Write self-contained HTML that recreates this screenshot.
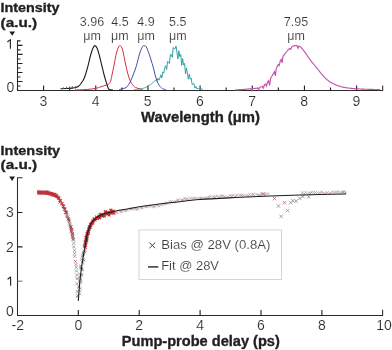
<!DOCTYPE html>
<html><head><meta charset="utf-8"><style>html,body{margin:0;padding:0;background:#fff;width:392px;height:350px;overflow:hidden}svg{display:block;will-change:transform}text{font-family:"Liberation Sans",sans-serif}</style></head><body><svg width="392" height="350" viewBox="0 0 392 350" font-family="Liberation Sans, sans-serif"><path d="M17.5,40.3 V90.5 H382.7 V85.6" fill="none" stroke="#2a2a2a" stroke-width="1.05"/><path d="M17.5,45.40h5 M17.5,54.42h5 M17.5,63.44h5 M17.5,72.46h5 M17.5,81.48h5 M17.5,40.90h3 M17.5,49.92h3 M17.5,58.94h3 M17.5,67.96h3 M17.5,76.98h3 M17.5,86.00h3" stroke="#231f20" stroke-width="1.1"/><path d="M43.59,90.5V85.6 M95.75,90.5V85.6 M147.93,90.5V85.6 M200.09,90.5V85.6 M252.27,90.5V85.6 M304.44,90.5V85.6 M356.61,90.5V85.6 M17.50,90.5V87.5 M69.67,90.5V87.5 M121.84,90.5V87.5 M174.01,90.5V87.5 M226.18,90.5V87.5 M278.35,90.5V87.5 M330.52,90.5V87.5" stroke="#231f20" stroke-width="1.1"/><path d="M60.50,88.70 C61.42,88.67 64.08,88.60 66.00,88.50 C67.92,88.40 70.33,88.27 72.00,88.10 C73.67,87.93 74.92,87.80 76.00,87.50 C77.08,87.20 77.67,86.97 78.50,86.30 C79.33,85.63 80.13,84.67 81.00,83.50 C81.87,82.33 82.87,81.05 83.70,79.30 C84.53,77.55 85.25,75.35 86.00,73.00 C86.75,70.65 87.45,68.12 88.20,65.20 C88.95,62.28 89.73,58.28 90.50,55.50 C91.27,52.72 92.05,50.15 92.80,48.50 C93.55,46.85 94.27,45.60 95.00,45.60 C95.73,45.60 96.45,46.77 97.20,48.50 C97.95,50.23 98.73,53.17 99.50,56.00 C100.27,58.83 101.05,62.42 101.80,65.50 C102.55,68.58 103.30,71.83 104.00,74.50 C104.70,77.17 105.40,79.50 106.00,81.50 C106.60,83.50 107.15,85.22 107.60,86.50 C108.05,87.78 108.22,88.63 108.70,89.20 C109.18,89.77 109.78,89.75 110.50,89.90 C111.22,90.05 112.58,90.07 113.00,90.10" fill="none" stroke="#1d1d1b" stroke-width="1.1"/><path d="M66.5,86.6V89 M69.5,86.3V89 M72.3,86.0V88.8 M75.5,85.8V88.6 M63.5,87.2V89" stroke="#555" stroke-width="0.8"/><path d="M75.00,90.00 C76.67,89.93 81.67,89.85 85.00,89.60 C88.33,89.35 92.33,88.97 95.00,88.50 C97.67,88.03 99.33,87.30 101.00,86.80 C102.67,86.30 103.78,85.92 105.00,85.50 C106.22,85.08 107.50,84.75 108.30,84.30 C109.10,83.85 109.37,83.52 109.80,82.80 C110.23,82.08 110.50,81.47 110.90,80.00 C111.30,78.53 111.63,76.67 112.20,74.00 C112.77,71.33 113.58,67.50 114.30,64.00 C115.02,60.50 115.62,56.07 116.50,53.00 C117.38,49.93 118.58,46.10 119.60,45.60 C120.62,45.10 121.62,46.93 122.60,50.00 C123.58,53.07 124.52,59.67 125.50,64.00 C126.48,68.33 127.48,72.75 128.50,76.00 C129.52,79.25 130.42,81.58 131.60,83.50 C132.78,85.42 134.20,86.62 135.60,87.50 C137.00,88.38 138.77,88.48 140.00,88.80 C141.23,89.12 142.50,89.30 143.00,89.40" fill="none" stroke="#d42a3c" stroke-width="1.0"/><path d="M119.00,89.60 C119.67,89.43 121.67,89.07 123.00,88.60 C124.33,88.13 125.73,88.07 127.00,86.80 C128.27,85.53 129.52,83.13 130.60,81.00 C131.68,78.87 132.52,76.58 133.50,74.00 C134.48,71.42 135.50,68.83 136.50,65.50 C137.50,62.17 138.48,57.17 139.50,54.00 C140.52,50.83 141.83,47.88 142.60,46.50 C143.37,45.12 143.50,45.65 144.10,45.70 C144.70,45.75 145.33,45.33 146.20,46.80 C147.07,48.27 148.32,51.73 149.30,54.50 C150.28,57.27 151.28,60.65 152.10,63.40 C152.92,66.15 153.53,68.52 154.20,71.00 C154.87,73.48 155.30,75.95 156.10,78.30 C156.90,80.65 157.93,83.38 159.00,85.10 C160.07,86.82 161.33,87.83 162.50,88.60 C163.67,89.37 165.42,89.52 166.00,89.70" fill="none" stroke="#3f4c9f" stroke-width="1.0"/><path d="M134.00,89.70 L134.14,89.68 L134.29,89.67 L134.46,89.65 L134.64,89.63 L134.84,89.62 L135.05,89.60 L135.27,89.58 L135.50,89.56 L135.75,89.54 L136.00,89.52 L136.26,89.50 L136.53,89.48 L136.81,89.45 L137.09,89.43 L137.38,89.40 L137.67,89.37 L137.97,89.34 L138.26,89.31 L138.56,89.28 L138.86,89.24 L139.15,89.21 L139.45,89.17 L139.74,89.12 L140.03,89.08 L140.32,89.03 L140.60,88.99 L140.88,88.93 L141.15,88.88 L141.41,88.82 L141.66,88.76 L141.90,88.70 L142.15,88.63 L142.40,88.56 L142.64,88.49 L142.88,88.42 L143.12,88.34 L143.36,88.27 L143.59,88.19 L143.82,88.11 L144.05,88.03 L144.28,87.94 L144.51,87.86 L144.73,87.77 L144.96,87.67 L145.18,87.58 L145.41,87.48 L145.63,87.38 L145.86,87.28 L146.08,87.17 L146.31,87.06 L146.54,86.94 L146.77,86.82 L147.00,86.70 L147.23,86.57 L147.47,86.44 L147.71,86.30 L147.95,86.16 L148.20,86.01 L148.45,85.86 L148.70,85.70 L148.89,85.58 L149.08,85.46 L149.27,85.33 L149.46,85.21 L149.66,85.07 L149.86,84.94 L150.06,84.80 L150.26,84.66 L150.46,84.52 L150.67,84.37 L150.88,84.22 L151.08,84.07 L151.29,83.91 L151.50,83.76 L151.71,83.60 L151.92,83.44 L152.14,83.28 L152.35,83.12 L152.56,82.95 L152.77,82.79 L152.98,82.62 L153.19,82.45 L153.40,82.28 L153.61,82.11 L153.82,81.94 L154.02,81.77 L154.23,81.60 L154.43,81.43 L154.63,81.26 L154.83,81.09 L155.80,80.23 L156.89,81.21 L157.84,78.27 L158.91,80.13 L159.91,77.97 L160.85,74.80 L161.86,77.91 L162.81,71.93 L163.77,73.12 L164.69,68.04 L165.69,65.68 L166.63,69.58 L167.58,61.42 L168.49,62.29 L169.41,63.53 L170.33,54.40 L171.26,54.61 L172.25,57.31 L173.19,47.51 L174.10,48.70 L175.03,48.75 L176.02,46.04 L176.93,52.19 L177.90,58.95 L178.87,50.77 L179.83,56.65 L180.74,54.48 L181.69,65.42 L182.64,58.58 L183.59,64.97 L184.56,63.44 L185.54,73.79 L186.45,67.90 L187.39,73.08 L188.32,79.16 L189.31,74.30 L190.25,79.24 L191.15,78.03 L192.15,84.52 L193.06,83.94 L193.97,83.68 L194.96,88.13 L195.95,86.36 L197.03,88.96 L198.00,88.18 L198.20,88.30 L198.43,88.42 L198.68,88.52 L198.95,88.61 L199.22,88.70 L199.51,88.77 L199.80,88.83 L200.09,88.88 L200.39,88.93 L200.68,88.97 L200.98,89.00 L201.26,89.03 L201.54,89.06 L201.80,89.08 L202.05,89.10 L202.29,89.12 L202.50,89.14 L202.69,89.16 L202.86,89.18 L203.00,89.20" fill="none" stroke="#2b9ba0" stroke-width="0.95" stroke-linejoin="miter" stroke-miterlimit="3"/><path d="M235.00,90.00 L235.13,89.99 L235.28,89.98 L235.44,89.97 L235.61,89.96 L235.79,89.95 L235.99,89.93 L236.19,89.92 L236.41,89.90 L236.63,89.89 L236.87,89.87 L237.11,89.86 L237.36,89.84 L237.62,89.82 L237.88,89.81 L238.15,89.79 L238.42,89.77 L238.70,89.75 L238.99,89.73 L239.27,89.71 L239.56,89.69 L239.85,89.67 L240.15,89.65 L240.44,89.63 L240.74,89.61 L241.03,89.59 L241.32,89.57 L241.62,89.55 L241.91,89.53 L242.19,89.51 L242.48,89.49 L242.76,89.47 L243.03,89.45 L243.30,89.43 L243.57,89.41 L243.83,89.39 L244.08,89.37 L244.32,89.35 L244.56,89.34 L244.78,89.32 L245.88,89.22 L246.98,89.12 L248.01,89.02 L248.99,88.92 L249.93,88.82 L250.85,88.72 L251.77,90.62 L252.80,88.53 L253.82,88.46 L254.82,88.39 L255.79,88.31 L256.77,88.18 L257.75,87.97 L258.69,90.20 L259.62,87.40 L260.55,87.06 L261.48,86.67 L262.40,86.21 L263.32,88.67 L264.36,84.93 L265.42,84.07 L266.48,86.11 L267.53,82.04 L268.58,80.85 L269.63,85.53 L270.60,78.17 L271.55,76.69 L272.50,75.10 L273.44,73.48 L274.46,71.66 L275.39,75.99 L276.33,68.28 L277.30,66.38 L278.29,64.40 L279.30,65.50 L280.23,60.89 L281.15,59.36 L282.07,62.90 L283.00,56.50 L283.92,55.20 L284.85,53.94 L285.78,52.76 L286.80,51.50 L287.75,50.39 L288.65,49.41 L289.67,48.39 L290.69,49.53 L291.73,46.84 L292.83,46.30 L293.96,45.85 L294.94,45.64 L295.96,45.59 L296.95,45.59 L298.01,48.31 L299.08,46.03 L300.12,46.65 L301.11,47.52 L302.13,48.64 L303.07,49.80 L304.07,51.09 L305.02,52.40 L305.16,52.60 L305.30,52.80 L305.44,53.01 L305.59,53.22 L305.74,53.44 L305.88,53.65 L306.03,53.87 L306.18,54.09 L306.33,54.31 L306.48,54.53 L306.63,54.76 L306.78,54.98 L306.94,55.21 L307.09,55.43 L307.24,55.66 L307.39,55.88 L307.55,56.11 L307.70,56.33 L307.85,56.56 L308.01,56.78 L308.16,57.00 L308.31,57.22 L308.46,57.44 L308.61,57.66 L308.77,57.87 L308.92,58.09 L309.07,58.30 L309.21,58.50 L309.36,58.71 L309.51,58.91 L309.66,59.11 L309.80,59.30 L309.96,59.51 L310.12,59.72 L310.28,59.93 L310.44,60.13 L310.60,60.34 L310.75,60.54 L310.91,60.74 L311.07,60.94 L311.23,61.14 L311.39,61.34 L311.55,61.54 L311.71,61.73 L311.86,61.93 L312.02,62.12 L312.18,62.32 L312.34,62.51 L312.50,62.70 L312.65,62.89 L312.81,63.08 L312.97,63.27 L313.13,63.46 L313.29,63.65 L313.44,63.84 L313.60,64.03 L313.76,64.22 L313.92,64.41 L314.07,64.60 L314.23,64.79 L314.39,64.98 L314.55,65.16 L314.70,65.35 L314.86,65.55 L315.02,65.74 L315.17,65.93 L315.33,66.12 L315.49,66.31 L315.64,66.51 L315.80,66.70 L315.96,66.90 L316.12,67.10 L316.28,67.30 L316.44,67.51 L316.60,67.71 L316.76,67.92 L316.92,68.12 L317.08,68.33 L317.24,68.53 L317.40,68.74 L317.56,68.94 L317.72,69.15 L317.88,69.36 L318.04,69.56 L318.20,69.77 L318.36,69.97 L318.52,70.18 L318.68,70.39 L318.84,70.59 L318.99,70.79 L319.15,71.00 L319.31,71.20 L319.47,71.40 L319.63,71.60 L319.79,71.80 L319.95,72.00 L320.11,72.20 L320.27,72.40 L320.43,72.59 L320.59,72.79 L320.74,72.98 L320.90,73.17 L321.06,73.36 L321.22,73.55 L321.38,73.73 L321.54,73.92 L321.70,74.10 L321.88,74.30 L322.05,74.50 L322.23,74.70 L322.41,74.90 L322.58,75.10 L322.75,75.30 L322.92,75.49 L323.10,75.69 L323.27,75.88 L323.44,76.07 L323.61,76.26 L323.78,76.45 L323.95,76.64 L324.13,76.83 L324.30,77.01 L324.47,77.20 L324.64,77.38 L324.82,77.56 L324.99,77.74 L325.17,77.92 L325.34,78.09 L325.52,78.27 L325.70,78.44 L325.88,78.62 L326.07,78.79 L326.25,78.96 L326.44,79.13 L326.62,79.29 L326.81,79.46 L327.01,79.62 L327.20,79.78 L327.40,79.94 L327.60,80.10 L327.80,80.25 L327.99,80.40 L328.19,80.55 L328.39,80.70 L328.59,80.85 L328.79,80.99 L328.99,81.13 L329.19,81.28 L329.39,81.42 L329.60,81.55 L329.80,81.69 L330.01,81.83 L330.22,81.96 L330.43,82.10 L330.64,82.23 L330.85,82.36 L331.06,82.49 L331.28,82.62 L331.50,82.74 L331.71,82.87 L331.94,82.99 L332.16,83.11 L332.38,83.24 L332.61,83.36 L332.84,83.48 L333.07,83.59 L333.30,83.71 L333.54,83.83 L333.77,83.94 L334.01,84.06 L334.26,84.17 L334.50,84.28 L334.75,84.39 L335.00,84.50 L335.21,84.59 L335.43,84.68 L335.64,84.77 L335.85,84.86 L336.06,84.95 L336.28,85.04 L336.49,85.13 L336.70,85.21 L336.92,85.30 L337.13,85.38 L337.35,85.47 L337.56,85.55 L337.78,85.63 L338.00,85.71 L338.22,85.79 L338.45,85.87 L338.67,85.95 L338.90,86.03 L339.13,86.11 L339.36,86.18 L339.59,86.26 L339.83,86.33 L340.06,86.40 L340.31,86.48 L340.55,86.55 L340.80,86.62 L341.05,86.69 L341.31,86.75 L341.56,86.82 L341.83,86.89 L342.09,86.95 L342.36,87.02 L342.64,87.08 L342.92,87.14 L343.20,87.21 L343.49,87.27 L343.79,87.33 L344.09,87.39 L344.39,87.44 L344.70,87.50 L344.91,87.54 L345.11,87.57 L345.32,87.61 L345.53,87.64 L345.75,87.68 L345.96,87.71 L346.18,87.74 L346.39,87.78 L346.61,87.81 L346.83,87.84 L347.06,87.87 L347.28,87.90 L347.51,87.93 L347.73,87.96 L347.96,87.99 L348.19,88.02 L348.43,88.05 L348.66,88.08 L348.90,88.11 L349.13,88.14 L349.37,88.16 L349.61,88.19 L349.85,88.22 L350.09,88.24 L350.34,88.27 L350.58,88.29 L350.83,88.32 L351.08,88.34 L351.33,88.36 L351.58,88.39 L351.83,88.41 L352.09,88.43 L352.34,88.46 L352.60,88.48 L352.86,88.50 L353.12,88.52 L353.38,88.55 L353.64,88.57 L353.90,88.59 L354.17,88.61 L354.43,88.63 L354.70,88.65 L354.97,88.67 L355.24,88.69 L355.51,88.71 L355.78,88.73 L356.05,88.75 L356.33,88.77 L356.60,88.79 L356.88,88.80 L357.16,88.82 L357.44,88.84 L357.72,88.86 L358.00,88.88 L358.28,88.89 L358.57,88.91 L358.85,88.93 L359.14,88.95 L359.42,88.97 L359.71,88.98 L360.00,89.00 L360.22,89.01 L360.45,89.03 L360.68,89.04 L360.92,89.05 L361.16,89.06 L361.40,89.08 L361.65,89.09 L361.90,89.10 L362.15,89.11 L362.41,89.12 L362.67,89.13 L362.94,89.14 L363.20,89.16 L363.47,89.17 L363.74,89.18 L364.02,89.19 L364.30,89.20 L364.57,89.21 L364.86,89.22 L365.14,89.23 L365.42,89.24 L365.71,89.25 L366.00,89.26 L366.28,89.27 L366.57,89.27 L366.86,89.28 L367.16,89.29 L367.45,89.30 L367.74,89.31 L368.03,89.32 L368.33,89.33 L368.62,89.33 L368.92,89.34 L369.21,89.35 L369.50,89.36 L369.79,89.36 L370.09,89.37 L370.38,89.38 L370.67,89.39 L370.96,89.39 L371.24,89.40 L371.53,89.41 L371.82,89.41 L372.10,89.42 L372.38,89.43 L372.66,89.43 L372.94,89.44 L373.21,89.45 L373.49,89.45 L373.76,89.46 L374.03,89.46 L374.29,89.47 L374.55,89.48 L374.81,89.48 L375.07,89.49 L375.32,89.49 L375.57,89.50 L375.82,89.50 L376.06,89.51 L376.30,89.51 L376.53,89.52 L376.76,89.52 L376.98,89.53 L377.20,89.53 L377.42,89.54 L377.63,89.54 L377.84,89.55 L378.04,89.55 L378.23,89.56 L378.42,89.56 L378.61,89.56 L378.79,89.57 L378.96,89.57 L379.13,89.58 L379.29,89.58 L379.45,89.58 L379.59,89.59 L379.74,89.59 L379.87,89.60 L380.00,89.60" fill="none" stroke="#c252ae" stroke-width="1.15" stroke-linejoin="miter" stroke-miterlimit="3"/><path d="M22.5,177.7 H17.5 V315.5 H382.6 V309.8" fill="none" stroke="#2a2a2a" stroke-width="1.05"/><path d="M17.5,281.17h5" stroke="#777" stroke-width="1.1"/><path d="M17.5,246.84h5 M17.5,212.51h5 M78.30,315.5V310 M139.20,315.5V310 M200.10,315.5V310 M261.00,315.5V310 M321.90,315.5V310" stroke="#231f20" stroke-width="1.1"/><path d="M37.23,194.64 L37.69,194.62 L38.19,194.60 L38.71,194.57 L39.25,194.55 L39.81,194.53 L40.38,194.52 L40.95,194.51 L41.52,194.50 L42.08,194.50 L42.62,194.51 L43.15,194.53 L43.65,194.55 L44.12,194.59 L44.60,194.64 L45.10,194.70 L45.61,194.76 L46.13,194.83 L46.65,194.90 L47.18,194.98 L47.70,195.07 L48.22,195.17 L48.73,195.26 L49.23,195.37 L49.72,195.47 L50.19,195.58 L50.65,195.68 L51.09,195.79 L51.50,195.91 L51.88,196.02 L52.23,196.14 L52.75,196.33 L53.19,196.50 L53.57,196.67 L53.91,196.84 L54.25,196.96 L54.59,197.06 L54.95,197.20 L55.32,197.38 L55.72,197.61 L56.16,197.89 L56.64,198.21 L56.99,198.45 L57.34,198.71 L57.70,198.99 L58.07,199.28 L58.43,199.59 L58.80,199.92 L59.18,200.26 L59.55,200.63 L60.29,200.10 L60.05,199.62 L59.81,199.15 L59.57,198.69 L59.33,198.25 L59.09,197.81 L58.85,197.39 L58.60,196.98 L58.36,196.59 L58.02,196.06 L57.69,195.58 L57.36,195.12 L57.01,194.68 L56.65,194.26 L56.25,193.85 L55.81,193.49 L55.30,193.21 L54.76,192.95 L54.19,192.71 L53.57,192.46 L53.12,192.30 L52.65,192.14 L52.16,191.99 L51.65,191.85 L51.13,191.71 L50.60,191.58 L50.06,191.45 L49.51,191.34 L48.95,191.23 L48.38,191.13 L47.82,191.04 L47.25,190.95 L46.68,190.87 L46.12,190.79 L45.57,190.72 L45.02,190.66 L44.48,190.61 L43.91,190.56 L43.32,190.53 L42.72,190.51 L42.11,190.50 L41.50,190.50 L40.89,190.51 L40.28,190.52 L39.69,190.54 L39.11,190.56 L38.54,190.58 L38.01,190.60 L37.50,190.63 L37.04,190.65Z" fill="#d42a32"/><path d="M52.57,193.02l3,3m-3,0l3,-3M55.18,194.36l3,3m-3,0l3,-3M57.27,196.58l3,3m-3,0l3,-3M58.77,199.27l3,3m-3,0l3,-3M60.55,202.16l3,3m-3,0l3,-3M61.97,204.79l3,3m-3,0l3,-3M63.10,207.70l3,3m-3,0l3,-3M64.35,210.72l3,3m-3,0l3,-3" stroke="#d42a32" stroke-width="1.2"/><path d="M65.10,211.65L67.90,214.45M65.10,214.45L67.90,211.65" stroke="#d42a32" stroke-width="0.95"/><path d="M65.57,213.89L68.37,216.69M65.57,216.69L68.37,213.89" stroke="#8a7a7a" stroke-width="0.95"/><path d="M66.45,215.42L69.25,218.22M66.45,218.22L69.25,215.42" stroke="#8a7a7a" stroke-width="0.95"/><path d="M66.91,217.42L69.71,220.22M66.91,220.22L69.71,217.42" stroke="#d42a32" stroke-width="0.95"/><path d="M67.53,219.30L70.33,222.10M67.53,222.10L70.33,219.30" stroke="#d42a32" stroke-width="0.95"/><path d="M68.18,221.73L70.98,224.53M68.18,224.53L70.98,221.73" stroke="#8a7a7a" stroke-width="0.95"/><path d="M68.58,223.48L71.38,226.28M68.58,226.28L71.38,223.48" stroke="#8a7a7a" stroke-width="0.95"/><path d="M69.52,225.51L72.32,228.31M69.52,228.31L72.32,225.51" stroke="#d42a32" stroke-width="0.95"/><path d="M69.93,227.95L72.73,230.75M69.93,230.75L72.73,227.95" stroke="#d42a32" stroke-width="0.95"/><path d="M69.82,229.61L72.62,232.41M69.82,232.41L72.62,229.61" stroke="#d42a32" stroke-width="0.95"/><path d="M70.87,232.03L73.67,234.83M70.87,234.83L73.67,232.03" stroke="#d42a32" stroke-width="0.95"/><path d="M71.03,233.25L73.83,236.05M71.03,236.05L73.83,233.25" stroke="#8a7a7a" stroke-width="0.95"/><path d="M71.25,235.84L74.05,238.64M71.25,238.64L74.05,235.84" stroke="#d42a32" stroke-width="0.95"/><path d="M72.04,237.69L74.84,240.49M72.04,240.49L74.84,237.69" stroke="#8a7a7a" stroke-width="0.95"/><path d="M36.83,189.72L39.43,192.32M36.83,192.32L39.43,189.72" stroke="#6a5a5a" stroke-width="0.5"/><path d="M38.71,192.51L41.31,195.11M38.71,195.11L41.31,192.51" stroke="#6a5a5a" stroke-width="0.5"/><path d="M42.10,192.67L44.70,195.27M42.10,195.27L44.70,192.67" stroke="#6a5a5a" stroke-width="0.5"/><path d="M45.46,190.01L48.06,192.61M45.46,192.61L48.06,190.01" stroke="#6a5a5a" stroke-width="0.5"/><path d="M46.40,190.12L49.00,192.72M46.40,192.72L49.00,190.12" stroke="#6a5a5a" stroke-width="0.5"/><path d="M49.42,193.81L52.02,196.41M49.42,196.41L52.02,193.81" stroke="#6a5a5a" stroke-width="0.5"/><path d="M51.21,194.66L53.81,197.26M51.21,197.26L53.81,194.66" stroke="#6a5a5a" stroke-width="0.5"/><path d="M54.54,192.87L57.14,195.47M54.54,195.47L57.14,192.87" stroke="#6a5a5a" stroke-width="0.5"/><path d="M56.74,195.12L59.34,197.72M56.74,197.72L59.34,195.12" stroke="#6a5a5a" stroke-width="0.5"/><path d="M57.50,195.76L60.10,198.36M57.50,198.36L60.10,195.76" stroke="#6a5a5a" stroke-width="0.5"/><path d="M58.39,201.37L60.99,203.97M58.39,203.97L60.99,201.37" stroke="#6a5a5a" stroke-width="0.5"/><path d="M61.48,204.32L64.08,206.92M61.48,206.92L64.08,204.32" stroke="#6a5a5a" stroke-width="0.5"/><path d="M62.27,206.78L64.87,209.38M62.27,209.38L64.87,206.78" stroke="#6a5a5a" stroke-width="0.5"/><path d="M63.82,207.92L66.42,210.52M63.82,210.52L66.42,207.92" stroke="#6a5a5a" stroke-width="0.5"/><path d="M63.23,207.67L65.83,210.27M63.23,210.27L65.83,207.67" stroke="#6a5a5a" stroke-width="0.5"/><path d="M64.89,210.34L67.49,212.94M64.89,212.94L67.49,210.34" stroke="#6a5a5a" stroke-width="0.5"/><path d="M65.36,215.40L67.96,218.00M65.36,218.00L67.96,215.40" stroke="#6a5a5a" stroke-width="0.5"/><path d="M66.85,218.08L69.45,220.68M66.85,220.68L69.45,218.08" stroke="#6a5a5a" stroke-width="0.5"/><path d="M67.81,217.81L70.41,220.41M67.81,220.41L70.41,217.81" stroke="#6a5a5a" stroke-width="0.5"/><path d="M68.10,219.81L70.70,222.41M68.10,222.41L70.70,219.81" stroke="#6a5a5a" stroke-width="0.5"/><path d="M68.67,225.59L71.27,228.19M68.67,228.19L71.27,225.59" stroke="#6a5a5a" stroke-width="0.5"/><path d="M69.81,227.69L72.41,230.29M69.81,230.29L72.41,227.69" stroke="#6a5a5a" stroke-width="0.5"/><path d="M71.11,227.98L73.71,230.58M71.11,230.58L73.71,227.98" stroke="#6a5a5a" stroke-width="0.5"/><path d="M70.35,231.02L72.95,233.62M70.35,233.62L72.95,231.02" stroke="#6a5a5a" stroke-width="0.5"/><path d="M71.26,232.68L73.86,235.28M71.26,235.28L73.86,232.68" stroke="#6a5a5a" stroke-width="0.5"/><path d="M71.84,237.71L74.44,240.31M71.84,240.31L74.44,237.71" stroke="#6a5a5a" stroke-width="0.5"/><path d="M69.10,225.20L72.10,228.20M69.10,228.20L72.10,225.20" stroke="#b04050" stroke-width="0.65"/><path d="M70.10,229.50L73.10,232.50M70.10,232.50L73.10,229.50" stroke="#7d7575" stroke-width="0.65"/><path d="M71.20,234.60L74.20,237.60M71.20,237.60L74.20,234.60" stroke="#b04050" stroke-width="0.65"/><path d="M71.80,238.50L74.80,241.50M71.80,241.50L74.80,238.50" stroke="#7d7575" stroke-width="0.65"/><path d="M72.20,241.90L75.20,244.90M72.20,244.90L75.20,241.90" stroke="#7d7575" stroke-width="0.65"/><path d="M72.20,245.40L75.20,248.40M72.20,248.40L75.20,245.40" stroke="#7d7575" stroke-width="0.65"/><path d="M73.10,248.80L76.10,251.80M73.10,251.80L76.10,248.80" stroke="#7d7575" stroke-width="0.65"/><path d="M73.10,251.80L76.10,254.80M73.10,254.80L76.10,251.80" stroke="#7d7575" stroke-width="0.65"/><path d="M73.10,254.80L76.10,257.80M73.10,257.80L76.10,254.80" stroke="#7d7575" stroke-width="0.65"/><path d="M73.90,259.90L76.90,262.90M73.90,262.90L76.90,259.90" stroke="#b04050" stroke-width="0.65"/><path d="M74.50,263.00L77.50,266.00M74.50,266.00L77.50,263.00" stroke="#7d7575" stroke-width="0.65"/><path d="M74.80,265.90L77.80,268.90M74.80,268.90L77.80,265.90" stroke="#7d7575" stroke-width="0.65"/><path d="M75.00,269.50L78.00,272.50M75.00,272.50L78.00,269.50" stroke="#7d7575" stroke-width="0.65"/><path d="M75.30,273.50L78.30,276.50M75.30,276.50L78.30,273.50" stroke="#7d7575" stroke-width="0.65"/><path d="M75.60,277.10L78.60,280.10M75.60,280.10L78.60,277.10" stroke="#b04050" stroke-width="0.65"/><path d="M75.60,282.20L78.60,285.20M75.60,285.20L78.60,282.20" stroke="#7d7575" stroke-width="0.65"/><path d="M77.40,285.70L80.40,288.70M77.40,288.70L80.40,285.70" stroke="#7d7575" stroke-width="0.65"/><path d="M75.60,290.00L78.60,293.00M75.60,293.00L78.60,290.00" stroke="#7d7575" stroke-width="0.65"/><path d="M76.10,294.00L79.10,297.00M76.10,297.00L79.10,294.00" stroke="#7d7575" stroke-width="0.65"/><path d="M87.08,243.69 L87.17,243.14 L87.26,242.61 L87.34,242.09 L87.43,241.59 L87.51,241.09 L87.59,240.60 L87.68,240.12 L87.76,239.64 L87.85,239.17 L87.94,238.69 L88.04,238.22 L88.14,237.73 L88.24,237.24 L88.36,236.74 L88.48,236.26 L88.60,235.76 L88.72,235.26 L88.85,234.75 L88.99,234.23 L89.12,233.72 L89.26,233.20 L89.41,232.69 L89.55,232.18 L89.70,231.68 L89.85,231.18 L90.00,230.70 L90.15,230.23 L90.30,229.78 L90.45,229.34 L90.61,228.92 L90.81,228.38 L91.02,227.85 L91.22,227.35 L91.43,226.86 L91.63,226.40 L91.84,225.95 L92.06,225.52 L92.28,225.10 L92.50,224.70 L92.74,224.31 L92.98,223.93 L93.23,223.57 L93.51,223.18 L93.80,222.81 L94.11,222.45 L94.43,222.11 L94.76,221.77 L95.10,221.44 L95.45,221.12 L95.81,220.80 L96.18,220.49 L96.56,220.18 L96.93,219.88 L97.34,219.56 L97.75,219.25 L98.18,218.96 L98.61,218.67 L99.05,218.39 L99.50,218.13 L99.95,217.86 L100.40,217.61 L100.85,217.37 L101.30,217.13 L101.78,216.88 L102.23,216.65 L102.65,216.44 L103.07,216.25 L103.49,216.07 L103.94,215.89 L104.44,215.71 L104.99,215.53 L105.63,215.34 L106.01,215.23 L106.42,215.12 L106.86,215.01 L107.32,214.89 L107.80,214.78 L108.30,214.67 L108.81,214.55 L109.33,214.44 L109.86,214.33 L110.39,214.22 L110.92,214.11 L111.45,214.00 L111.98,213.89 L112.50,213.78 L113.01,213.67 L113.51,213.57 L114.02,213.46 L114.53,213.35 L113.92,210.42 L113.41,210.52 L112.89,210.63 L112.40,210.74 L111.89,210.84 L111.37,210.95 L110.84,211.06 L110.31,211.17 L109.77,211.28 L109.23,211.39 L108.70,211.51 L108.16,211.62 L107.64,211.74 L107.12,211.86 L106.62,211.98 L106.13,212.10 L105.66,212.22 L105.21,212.34 L104.77,212.46 L104.09,212.67 L103.46,212.88 L102.89,213.08 L102.35,213.29 L101.85,213.51 L101.36,213.73 L100.89,213.97 L100.41,214.21 L99.90,214.47 L99.43,214.72 L98.94,214.99 L98.46,215.26 L97.97,215.55 L97.47,215.84 L96.98,216.15 L96.49,216.48 L96.01,216.81 L95.53,217.16 L95.07,217.52 L94.66,217.85 L94.26,218.19 L93.85,218.53 L93.45,218.89 L93.05,219.26 L92.65,219.64 L92.25,220.04 L91.87,220.46 L91.49,220.90 L91.12,221.36 L90.77,221.83 L90.47,222.28 L90.18,222.74 L89.90,223.20 L89.64,223.67 L89.39,224.16 L89.14,224.65 L88.91,225.15 L88.68,225.67 L88.45,226.20 L88.23,226.74 L88.01,227.30 L87.79,227.88 L87.63,228.33 L87.46,228.81 L87.30,229.30 L87.14,229.79 L86.98,230.30 L86.82,230.82 L86.67,231.35 L86.52,231.87 L86.37,232.41 L86.23,232.94 L86.08,233.47 L85.95,234.00 L85.81,234.53 L85.68,235.04 L85.56,235.55 L85.44,236.06 L85.32,236.58 L85.20,237.10 L85.10,237.61 L85.00,238.12 L84.90,238.62 L84.81,239.11 L84.72,239.60 L84.64,240.10 L84.55,240.59 L84.47,241.09 L84.38,241.60 L84.30,242.12 L84.21,242.65 L84.12,243.19Z" fill="#d42a32"/><path d="M83.17,244.51l2.8,2.8m-2.8,0l2.8,-2.8M84.08,245.83l2.8,2.8m-2.8,0l2.8,-2.8M84.26,242.28l2.8,2.8m-2.8,0l2.8,-2.8M83.76,240.71l2.8,2.8m-2.8,0l2.8,-2.8M85.40,239.15l2.8,2.8m-2.8,0l2.8,-2.8M84.58,236.14l2.8,2.8m-2.8,0l2.8,-2.8M85.57,237.42l2.8,2.8m-2.8,0l2.8,-2.8M85.47,235.68l2.8,2.8m-2.8,0l2.8,-2.8M85.89,231.94l2.8,2.8m-2.8,0l2.8,-2.8M87.00,231.09l2.8,2.8m-2.8,0l2.8,-2.8M87.01,232.07l2.8,2.8m-2.8,0l2.8,-2.8M87.58,227.72l2.8,2.8m-2.8,0l2.8,-2.8M87.87,225.36l2.8,2.8m-2.8,0l2.8,-2.8M88.78,225.78l2.8,2.8m-2.8,0l2.8,-2.8M89.52,223.51l2.8,2.8m-2.8,0l2.8,-2.8M89.12,222.98l2.8,2.8m-2.8,0l2.8,-2.8M90.33,222.14l2.8,2.8m-2.8,0l2.8,-2.8M91.43,221.58l2.8,2.8m-2.8,0l2.8,-2.8M92.72,217.70l2.8,2.8m-2.8,0l2.8,-2.8M93.02,217.61l2.8,2.8m-2.8,0l2.8,-2.8M95.09,215.72l2.8,2.8m-2.8,0l2.8,-2.8M95.92,217.18l2.8,2.8m-2.8,0l2.8,-2.8M98.11,216.57l2.8,2.8m-2.8,0l2.8,-2.8M98.69,213.04l2.8,2.8m-2.8,0l2.8,-2.8M100.33,212.99l2.8,2.8m-2.8,0l2.8,-2.8M102.02,214.11l2.8,2.8m-2.8,0l2.8,-2.8M102.90,214.68l2.8,2.8m-2.8,0l2.8,-2.8M103.97,210.24l2.8,2.8m-2.8,0l2.8,-2.8M106.01,210.97l2.8,2.8m-2.8,0l2.8,-2.8M107.58,213.61l2.8,2.8m-2.8,0l2.8,-2.8M109.39,208.75l2.8,2.8m-2.8,0l2.8,-2.8M111.45,209.99l2.8,2.8m-2.8,0l2.8,-2.8M112.54,211.93l2.8,2.8m-2.8,0l2.8,-2.8" stroke="#d42a32" stroke-width="1.1"/><path d="M78.19,279.51L80.59,281.91M78.19,281.91L80.59,279.51" stroke="#4a3a3a" stroke-width="0.45"/><path d="M79.69,277.61L82.09,280.01M79.69,280.01L82.09,277.61" stroke="#4a3a3a" stroke-width="0.45"/><path d="M79.30,274.66L81.70,277.06M79.30,277.06L81.70,274.66" stroke="#4a3a3a" stroke-width="0.45"/><path d="M80.58,273.14L82.98,275.54M80.58,275.54L82.98,273.14" stroke="#4a3a3a" stroke-width="0.45"/><path d="M80.44,268.15L82.84,270.55M80.44,270.55L82.84,268.15" stroke="#4a3a3a" stroke-width="0.45"/><path d="M79.57,266.98L81.97,269.38M79.57,269.38L81.97,266.98" stroke="#4a3a3a" stroke-width="0.45"/><path d="M80.70,267.56L83.10,269.96M80.70,269.96L83.10,267.56" stroke="#4a3a3a" stroke-width="0.45"/><path d="M80.13,265.31L82.53,267.71M80.13,267.71L82.53,265.31" stroke="#4a3a3a" stroke-width="0.45"/><path d="M80.87,260.79L83.27,263.19M80.87,263.19L83.27,260.79" stroke="#4a3a3a" stroke-width="0.45"/><path d="M82.11,258.09L84.51,260.49M82.11,260.49L84.51,258.09" stroke="#4a3a3a" stroke-width="0.45"/><path d="M82.72,259.45L85.12,261.85M82.72,261.85L85.12,259.45" stroke="#4a3a3a" stroke-width="0.45"/><path d="M81.57,254.67L83.97,257.07M81.57,257.07L83.97,254.67" stroke="#4a3a3a" stroke-width="0.45"/><path d="M81.92,251.96L84.32,254.36M81.92,254.36L84.32,251.96" stroke="#4a3a3a" stroke-width="0.45"/><path d="M82.46,253.57L84.86,255.97M82.46,255.97L84.86,253.57" stroke="#4a3a3a" stroke-width="0.45"/><path d="M82.31,251.34L84.71,253.74M82.31,253.74L84.71,251.34" stroke="#4a3a3a" stroke-width="0.45"/><path d="M83.85,249.23L86.25,251.63M83.85,251.63L86.25,249.23" stroke="#4a3a3a" stroke-width="0.45"/><path d="M84.59,244.14L86.99,246.54M84.59,246.54L86.99,244.14" stroke="#4a3a3a" stroke-width="0.45"/><path d="M84.19,241.95L86.59,244.35M84.19,244.35L86.59,241.95" stroke="#4a3a3a" stroke-width="0.45"/><path d="M85.04,240.06L87.44,242.46M85.04,242.46L87.44,240.06" stroke="#4a3a3a" stroke-width="0.45"/><path d="M84.13,238.37L86.53,240.77M84.13,240.77L86.53,238.37" stroke="#4a3a3a" stroke-width="0.45"/><path d="M85.62,236.60L88.02,239.00M85.62,239.00L88.02,236.60" stroke="#4a3a3a" stroke-width="0.45"/><path d="M85.62,237.56L88.02,239.96M85.62,239.96L88.02,237.56" stroke="#4a3a3a" stroke-width="0.45"/><path d="M85.28,232.69L87.68,235.09M85.28,235.09L87.68,232.69" stroke="#4a3a3a" stroke-width="0.45"/><path d="M86.17,230.29L88.57,232.69M86.17,232.69L88.57,230.29" stroke="#4a3a3a" stroke-width="0.45"/><path d="M87.34,228.31L89.74,230.71M87.34,230.71L89.74,228.31" stroke="#4a3a3a" stroke-width="0.45"/><path d="M88.07,226.11L90.47,228.51M88.07,228.51L90.47,226.11" stroke="#4a3a3a" stroke-width="0.45"/><path d="M88.54,227.08L90.94,229.48M88.54,229.48L90.94,227.08" stroke="#4a3a3a" stroke-width="0.45"/><path d="M89.02,225.65L91.42,228.05M89.02,228.05L91.42,225.65" stroke="#4a3a3a" stroke-width="0.45"/><path d="M91.31,220.20L93.71,222.60M91.31,222.60L93.71,220.20" stroke="#4a3a3a" stroke-width="0.45"/><path d="M91.06,219.09L93.46,221.49M91.06,221.49L93.46,219.09" stroke="#4a3a3a" stroke-width="0.45"/><path d="M92.88,217.59L95.28,219.99M92.88,219.99L95.28,217.59" stroke="#4a3a3a" stroke-width="0.45"/><path d="M94.23,219.34L96.63,221.74M94.23,221.74L96.63,219.34" stroke="#4a3a3a" stroke-width="0.45"/><path d="M97.39,214.39L99.79,216.79M97.39,216.79L99.79,214.39" stroke="#4a3a3a" stroke-width="0.45"/><path d="M98.76,216.17L101.16,218.57M98.76,218.57L101.16,216.17" stroke="#4a3a3a" stroke-width="0.45"/><path d="M101.12,215.27L103.52,217.67M101.12,217.67L103.52,215.27" stroke="#4a3a3a" stroke-width="0.45"/><path d="M103.12,215.25L105.52,217.65M103.12,217.65L105.52,215.25" stroke="#4a3a3a" stroke-width="0.45"/><path d="M103.73,211.69L106.13,214.09M103.73,214.09L106.13,211.69" stroke="#4a3a3a" stroke-width="0.45"/><path d="M106.13,213.43L108.53,215.83M106.13,215.83L108.53,213.43" stroke="#4a3a3a" stroke-width="0.45"/><path d="M107.74,212.67L110.14,215.07M107.74,215.07L110.14,212.67" stroke="#4a3a3a" stroke-width="0.45"/><path d="M110.21,212.78L112.61,215.18M110.21,215.18L112.61,212.78" stroke="#4a3a3a" stroke-width="0.45"/><path d="M112.40,209.63L114.80,212.03M112.40,212.03L114.80,209.63" stroke="#4a3a3a" stroke-width="0.45"/><path d="M114.34,210.65L117.14,213.45M114.34,213.45L117.14,210.65" stroke="#9a8888" stroke-width="0.55"/><path d="M115.82,211.26L118.62,214.06M115.82,214.06L118.62,211.26" stroke="#b07880" stroke-width="0.55"/><path d="M118.89,209.57L121.69,212.37M118.89,212.37L121.69,209.57" stroke="#a09090" stroke-width="0.55"/><path d="M120.00,210.48L122.80,213.28M120.00,213.28L122.80,210.48" stroke="#b07880" stroke-width="0.55"/><path d="M121.57,208.94L124.37,211.74M121.57,211.74L124.37,208.94" stroke="#888" stroke-width="0.55"/><path d="M123.91,209.51L126.71,212.31M123.91,212.31L126.71,209.51" stroke="#a09090" stroke-width="0.55"/><path d="M125.42,208.92L128.22,211.72M125.42,211.72L128.22,208.92" stroke="#888" stroke-width="0.55"/><path d="M128.54,207.74L131.34,210.54M128.54,210.54L131.34,207.74" stroke="#9a8888" stroke-width="0.55"/><path d="M130.17,207.64L132.97,210.44M130.17,210.44L132.97,207.64" stroke="#9a8888" stroke-width="0.55"/><path d="M131.19,207.10L133.99,209.90M131.19,209.90L133.99,207.10" stroke="#9a8888" stroke-width="0.55"/><path d="M133.63,206.91L136.43,209.71M133.63,209.71L136.43,206.91" stroke="#b07880" stroke-width="0.55"/><path d="M134.66,207.84L137.46,210.64M134.66,210.64L137.46,207.84" stroke="#888" stroke-width="0.55"/><path d="M136.60,207.72L139.40,210.52M136.60,210.52L139.40,207.72" stroke="#888" stroke-width="0.55"/><path d="M139.79,206.22L142.59,209.02M139.79,209.02L142.59,206.22" stroke="#b07880" stroke-width="0.55"/><path d="M140.88,206.59L143.68,209.39M140.88,209.39L143.68,206.59" stroke="#9a8888" stroke-width="0.55"/><path d="M144.18,205.54L146.98,208.34M144.18,208.34L146.98,205.54" stroke="#b07880" stroke-width="0.55"/><path d="M145.47,205.29L148.27,208.09M145.47,208.09L148.27,205.29" stroke="#a09090" stroke-width="0.55"/><path d="M148.08,204.81L150.88,207.61M148.08,207.61L150.88,204.81" stroke="#888" stroke-width="0.55"/><path d="M149.98,204.50L152.78,207.30M149.98,207.30L152.78,204.50" stroke="#a09090" stroke-width="0.55"/><path d="M152.22,205.56L155.02,208.36M152.22,208.36L155.02,205.56" stroke="#9a8888" stroke-width="0.55"/><path d="M153.20,204.89L156.00,207.69M153.20,207.69L156.00,204.89" stroke="#b07880" stroke-width="0.55"/><path d="M155.77,203.87L158.57,206.67M155.77,206.67L158.57,203.87" stroke="#888" stroke-width="0.55"/><path d="M157.28,204.54L160.08,207.34M157.28,207.34L160.08,204.54" stroke="#888" stroke-width="0.55"/><path d="M159.97,203.69L162.77,206.49M159.97,206.49L162.77,203.69" stroke="#888" stroke-width="0.55"/><path d="M162.40,202.76L165.20,205.56M162.40,205.56L165.20,202.76" stroke="#b07880" stroke-width="0.55"/><path d="M164.47,202.26L167.27,205.06M164.47,205.06L167.27,202.26" stroke="#b07880" stroke-width="0.55"/><path d="M165.84,201.72L168.64,204.52M165.84,204.52L168.64,201.72" stroke="#9a8888" stroke-width="0.55"/><path d="M168.42,200.65L171.22,203.45M168.42,203.45L171.22,200.65" stroke="#a09090" stroke-width="0.55"/><path d="M169.98,200.17L172.78,202.97M169.98,202.97L172.78,200.17" stroke="#888" stroke-width="0.55"/><path d="M172.54,200.62L175.34,203.42M172.54,203.42L175.34,200.62" stroke="#a09090" stroke-width="0.55"/><path d="M174.22,200.13L177.02,202.93M174.22,202.93L177.02,200.13" stroke="#9a8888" stroke-width="0.55"/><path d="M176.01,198.75L178.81,201.55M176.01,201.55L178.81,198.75" stroke="#888" stroke-width="0.55"/><path d="M177.37,198.56L180.17,201.36M177.37,201.36L180.17,198.56" stroke="#a09090" stroke-width="0.55"/><path d="M180.42,198.53L183.22,201.33M180.42,201.33L183.22,198.53" stroke="#b07880" stroke-width="0.55"/><path d="M181.16,198.84L183.96,201.64M181.16,201.64L183.96,198.84" stroke="#b07880" stroke-width="0.55"/><path d="M183.42,197.21L186.22,200.01M183.42,200.01L186.22,197.21" stroke="#888" stroke-width="0.55"/><path d="M184.98,197.43L187.78,200.23M184.98,200.23L187.78,197.43" stroke="#b07880" stroke-width="0.55"/><path d="M187.09,198.01L189.89,200.81M187.09,200.81L189.89,198.01" stroke="#9a8888" stroke-width="0.55"/><path d="M189.08,196.70L191.88,199.50M189.08,199.50L191.88,196.70" stroke="#888" stroke-width="0.55"/><path d="M191.49,196.98L194.29,199.78M191.49,199.78L194.29,196.98" stroke="#a09090" stroke-width="0.55"/><path d="M193.26,196.51L196.06,199.31M193.26,199.31L196.06,196.51" stroke="#b07880" stroke-width="0.55"/><path d="M195.88,197.09L198.68,199.89M195.88,199.89L198.68,197.09" stroke="#888" stroke-width="0.55"/><path d="M198.32,196.90L201.12,199.70M198.32,199.70L201.12,196.90" stroke="#888" stroke-width="0.55"/><path d="M199.48,196.76L202.28,199.56M199.48,199.56L202.28,196.76" stroke="#b07880" stroke-width="0.55"/><path d="M201.15,196.81L203.95,199.61M201.15,199.61L203.95,196.81" stroke="#888" stroke-width="0.55"/><path d="M203.82,196.64L206.62,199.44M203.82,199.44L206.62,196.64" stroke="#b07880" stroke-width="0.55"/><path d="M205.93,196.42L208.73,199.22M205.93,199.22L208.73,196.42" stroke="#9a8888" stroke-width="0.55"/><path d="M207.77,196.03L210.57,198.83M207.77,198.83L210.57,196.03" stroke="#b07880" stroke-width="0.55"/><path d="M208.86,195.04L211.66,197.84M208.86,197.84L211.66,195.04" stroke="#a09090" stroke-width="0.55"/><path d="M211.92,195.46L214.72,198.26M211.92,198.26L214.72,195.46" stroke="#888" stroke-width="0.55"/><path d="M213.48,195.75L216.28,198.55M213.48,198.55L216.28,195.75" stroke="#b07880" stroke-width="0.55"/><path d="M215.46,194.64L218.26,197.44M215.46,197.44L218.26,194.64" stroke="#9a8888" stroke-width="0.55"/><path d="M217.85,195.32L220.65,198.12M217.85,198.12L220.65,195.32" stroke="#9a8888" stroke-width="0.55"/><path d="M219.83,194.52L222.63,197.32M219.83,197.32L222.63,194.52" stroke="#888" stroke-width="0.55"/><path d="M221.44,194.42L224.24,197.22M221.44,197.22L224.24,194.42" stroke="#a09090" stroke-width="0.55"/><path d="M223.51,195.41L226.31,198.21M223.51,198.21L226.31,195.41" stroke="#b07880" stroke-width="0.55"/><path d="M226.21,195.65L229.01,198.45M226.21,198.45L229.01,195.65" stroke="#888" stroke-width="0.55"/><path d="M228.41,194.11L231.21,196.91M228.41,196.91L231.21,194.11" stroke="#a09090" stroke-width="0.55"/><path d="M230.38,194.87L233.18,197.67M230.38,197.67L233.18,194.87" stroke="#b07880" stroke-width="0.55"/><path d="M231.58,194.01L234.38,196.81M231.58,196.81L234.38,194.01" stroke="#a09090" stroke-width="0.55"/><path d="M234.28,194.78L237.08,197.58M234.28,197.58L237.08,194.78" stroke="#b07880" stroke-width="0.55"/><path d="M235.53,193.67L238.33,196.47M235.53,196.47L238.33,193.67" stroke="#a09090" stroke-width="0.55"/><path d="M238.70,193.63L241.50,196.43M238.70,196.43L241.50,193.63" stroke="#b07880" stroke-width="0.55"/><path d="M240.38,193.84L243.18,196.64M240.38,196.64L243.18,193.84" stroke="#a09090" stroke-width="0.55"/><path d="M242.17,194.02L244.97,196.82M242.17,196.82L244.97,194.02" stroke="#9a8888" stroke-width="0.55"/><path d="M244.85,194.05L247.65,196.85M244.85,196.85L247.65,194.05" stroke="#a09090" stroke-width="0.55"/><path d="M246.88,194.57L249.68,197.37M246.88,197.37L249.68,194.57" stroke="#9a8888" stroke-width="0.55"/><path d="M248.10,193.10L250.90,195.90M248.10,195.90L250.90,193.10" stroke="#888" stroke-width="0.55"/><path d="M250.99,193.50L253.79,196.30M250.99,196.30L253.79,193.50" stroke="#b07880" stroke-width="0.55"/><path d="M251.92,192.94L254.72,195.74M251.92,195.74L254.72,192.94" stroke="#a09090" stroke-width="0.55"/><path d="M255.00,192.91L257.80,195.71M255.00,195.71L257.80,192.91" stroke="#a09090" stroke-width="0.55"/><path d="M256.93,193.74L259.73,196.54M256.93,196.54L259.73,193.74" stroke="#b07880" stroke-width="0.55"/><path d="M258.46,193.93L261.26,196.73M258.46,196.73L261.26,193.93" stroke="#888" stroke-width="0.55"/><path d="M259.88,192.44L262.68,195.24M259.88,195.24L262.68,192.44" stroke="#888" stroke-width="0.55"/><path d="M262.63,193.00L265.43,195.80M262.63,195.80L265.43,193.00" stroke="#b07880" stroke-width="0.55"/><path d="M264.24,192.88L267.04,195.68M264.24,195.68L267.04,192.88" stroke="#9a8888" stroke-width="0.55"/><path d="M266.66,192.20L269.46,195.00M266.66,195.00L269.46,192.20" stroke="#a09090" stroke-width="0.55"/><path d="M300.81,191.24L303.61,194.04M300.81,194.04L303.61,191.24" stroke="#b07880" stroke-width="0.55"/><path d="M302.88,192.43L305.68,195.23M302.88,195.23L305.68,192.43" stroke="#a09090" stroke-width="0.55"/><path d="M304.36,191.03L307.16,193.83M304.36,193.83L307.16,191.03" stroke="#888" stroke-width="0.55"/><path d="M307.17,191.82L309.97,194.62M307.17,194.62L309.97,191.82" stroke="#a09090" stroke-width="0.55"/><path d="M308.91,192.04L311.71,194.84M308.91,194.84L311.71,192.04" stroke="#9a8888" stroke-width="0.55"/><path d="M309.93,190.87L312.73,193.67M309.93,193.67L312.73,190.87" stroke="#a09090" stroke-width="0.55"/><path d="M312.17,190.98L314.97,193.78M312.17,193.78L314.97,190.98" stroke="#a09090" stroke-width="0.55"/><path d="M313.81,191.21L316.61,194.01M313.81,194.01L316.61,191.21" stroke="#a09090" stroke-width="0.55"/><path d="M316.22,191.34L319.02,194.14M316.22,194.14L319.02,191.34" stroke="#9a8888" stroke-width="0.55"/><path d="M318.41,191.62L321.21,194.42M318.41,194.42L321.21,191.62" stroke="#b07880" stroke-width="0.55"/><path d="M320.25,190.65L323.05,193.45M320.25,193.45L323.05,190.65" stroke="#888" stroke-width="0.55"/><path d="M321.94,191.73L324.74,194.53M321.94,194.53L324.74,191.73" stroke="#a09090" stroke-width="0.55"/><path d="M324.15,191.94L326.95,194.74M324.15,194.74L326.95,191.94" stroke="#b07880" stroke-width="0.55"/><path d="M326.04,191.10L328.84,193.90M326.04,193.90L328.84,191.10" stroke="#a09090" stroke-width="0.55"/><path d="M328.52,191.58L331.32,194.38M328.52,194.38L331.32,191.58" stroke="#a09090" stroke-width="0.55"/><path d="M330.99,190.73L333.79,193.53M330.99,193.53L333.79,190.73" stroke="#888" stroke-width="0.55"/><path d="M333.49,190.94L336.29,193.74M333.49,193.74L336.29,190.94" stroke="#b07880" stroke-width="0.55"/><path d="M335.85,190.39L338.65,193.19M335.85,193.19L338.65,190.39" stroke="#888" stroke-width="0.55"/><path d="M337.87,190.95L340.67,193.75M337.87,193.75L340.67,190.95" stroke="#a09090" stroke-width="0.55"/><path d="M340.38,190.91L343.18,193.71M340.38,193.71L343.18,190.91" stroke="#b07880" stroke-width="0.55"/><path d="M341.62,190.55L344.42,193.35M341.62,193.35L344.42,190.55" stroke="#b07880" stroke-width="0.55"/><path d="M342.91,190.27L345.71,193.07M342.91,193.07L345.71,190.27" stroke="#b07880" stroke-width="0.55"/><path d="M344.18,191.40L346.98,194.20M344.18,194.20L346.98,191.40" stroke="#b07880" stroke-width="0.55"/><path d="M75.93,295.59L78.53,298.19M75.93,298.19L78.53,295.59" stroke="#8a8080" stroke-width="0.55"/><path d="M78.81,292.55L81.41,295.15M78.81,295.15L81.41,292.55" stroke="#8a8080" stroke-width="0.55"/><path d="M78.61,289.38L81.21,291.98M78.61,291.98L81.21,289.38" stroke="#8a8080" stroke-width="0.55"/><path d="M79.07,287.02L81.67,289.62M79.07,289.62L81.67,287.02" stroke="#8a8080" stroke-width="0.55"/><path d="M77.43,285.24L80.03,287.84M77.43,287.84L80.03,285.24" stroke="#8a8080" stroke-width="0.55"/><path d="M79.36,281.76L81.96,284.36M79.36,284.36L81.96,281.76" stroke="#8a8080" stroke-width="0.55"/><path d="M80.07,279.93L82.67,282.53M80.07,282.53L82.67,279.93" stroke="#8a8080" stroke-width="0.55"/><path d="M78.18,276.41L80.78,279.01M78.18,279.01L80.78,276.41" stroke="#8a8080" stroke-width="0.55"/><path d="M80.78,274.02L83.38,276.62M80.78,276.62L83.38,274.02" stroke="#8a8080" stroke-width="0.55"/><path d="M78.53,272.43L81.13,275.03M78.53,275.03L81.13,272.43" stroke="#8a8080" stroke-width="0.55"/><path d="M81.42,268.61L84.02,271.21M81.42,271.21L84.02,268.61" stroke="#8a8080" stroke-width="0.55"/><path d="M79.38,265.90L81.98,268.50M79.38,268.50L81.98,265.90" stroke="#8a8080" stroke-width="0.55"/><path d="M79.03,264.50L81.63,267.10M79.03,267.10L81.63,264.50" stroke="#8a8080" stroke-width="0.55"/><path d="M81.67,261.99L84.27,264.59M81.67,264.59L84.27,261.99" stroke="#8a8080" stroke-width="0.55"/><path d="M80.03,258.28L82.63,260.88M80.03,260.88L82.63,258.28" stroke="#8a8080" stroke-width="0.55"/><path d="M80.59,255.88L83.19,258.48M80.59,258.48L83.19,255.88" stroke="#8a8080" stroke-width="0.55"/><path d="M81.01,253.93L83.61,256.53M81.01,256.53L83.61,253.93" stroke="#8a8080" stroke-width="0.55"/><path d="M83.90,250.92L86.50,253.52M83.90,253.52L86.50,250.92" stroke="#8a8080" stroke-width="0.55"/><path d="M82.18,249.65L84.78,252.25M82.18,252.25L84.78,249.65" stroke="#8a8080" stroke-width="0.55"/><path d="M82.51,245.70L85.11,248.30M82.51,248.30L85.11,245.70" stroke="#8a8080" stroke-width="0.55"/><path d="M83.28,243.58L85.88,246.18M83.28,246.18L85.88,243.58" stroke="#8a8080" stroke-width="0.55"/><path d="M85.18,241.27L87.78,243.87M85.18,243.87L87.78,241.27" stroke="#8a8080" stroke-width="0.55"/><path d="M261.30,192.00L264.90,195.60M261.30,195.60L264.90,192.00" stroke="#b86070" stroke-width="0.75"/><path d="M272.70,196.60L276.30,200.20M272.70,200.20L276.30,196.60" stroke="#b86070" stroke-width="0.75"/><path d="M276.60,204.20L280.20,207.80M276.60,207.80L280.20,204.20" stroke="#8c8282" stroke-width="0.75"/><path d="M282.70,200.90L286.30,204.50M282.70,204.50L286.30,200.90" stroke="#b86070" stroke-width="0.75"/><path d="M279.30,214.60L282.90,218.20M279.30,218.20L282.90,214.60" stroke="#8c8282" stroke-width="0.75"/><path d="M285.80,208.80L289.40,212.40M285.80,212.40L289.40,208.80" stroke="#8c8282" stroke-width="0.75"/><path d="M288.80,200.90L292.40,204.50M288.80,204.50L292.40,200.90" stroke="#8c8282" stroke-width="0.75"/><path d="M291.10,198.90L294.70,202.50M291.10,202.50L294.70,198.90" stroke="#8c8282" stroke-width="0.75"/><path d="M294.20,199.30L297.80,202.90M294.20,202.90L297.80,199.30" stroke="#8c8282" stroke-width="0.75"/><path d="M298.00,196.60L301.60,200.20M298.00,200.20L301.60,196.60" stroke="#8c8282" stroke-width="0.75"/><path d="M301.10,194.70L304.70,198.30M301.10,198.30L304.70,194.70" stroke="#8c8282" stroke-width="0.75"/><path d="M306.90,195.00L310.50,198.60M306.90,198.60L310.50,195.00" stroke="#8c8282" stroke-width="0.75"/><path d="M78.30,300.90 C78.53,297.87 79.17,288.20 79.70,282.70 C80.23,277.20 80.80,272.85 81.50,267.90 C82.20,262.95 83.23,257.07 83.90,253.00 C84.57,248.93 85.00,246.35 85.50,243.50 C86.00,240.65 86.28,238.50 86.90,235.90 C87.52,233.30 88.35,230.18 89.20,227.90 C90.05,225.62 90.87,223.82 92.00,222.20 C93.13,220.58 94.57,219.35 96.00,218.20 C97.43,217.05 99.07,216.10 100.60,215.30 C102.13,214.50 103.10,214.02 105.20,213.40 C107.30,212.78 110.60,212.15 113.20,211.60 C115.80,211.05 118.05,210.62 120.80,210.10 C123.55,209.58 124.83,209.30 129.70,208.50 C134.57,207.70 142.45,206.33 150.00,205.30 C157.55,204.27 166.67,203.25 175.00,202.30 C183.33,201.35 190.00,200.38 200.00,199.60 C210.00,198.82 223.33,198.20 235.00,197.60 C246.67,197.00 259.17,196.43 270.00,196.00 C280.83,195.57 291.67,195.25 300.00,195.00 C308.33,194.75 312.33,194.67 320.00,194.50 C327.67,194.33 341.67,194.08 346.00,194.00" fill="none" stroke="#1d1d1b" stroke-width="1.05"/><rect x="139" y="230" width="142.5" height="49.5" fill="#fff" stroke="#d4d4d4" stroke-width="1"/><path d="M148,266.9 H158.3" stroke="#333" stroke-width="1.5"/><text x="0.6" y="12.3" font-size="13.5" font-weight="bold" text-anchor="start" fill="#231f20" stroke="#231f20" stroke-width="0.35" textLength="59" lengthAdjust="spacingAndGlyphs">Intensity</text><text x="0.6" y="26.6" font-size="13.5" font-weight="bold" text-anchor="start" fill="#231f20" stroke="#231f20" stroke-width="0.35" textLength="36.5" lengthAdjust="spacingAndGlyphs">(a.u.)</text><path d="M9.3,31.6 H15.1 L12.2,35.8 Z" fill="#231f20"/><path d="M10.4,48.8V39.6 L7.4,42.0" fill="none" stroke="#231f20" stroke-width="1.1" stroke-linejoin="round"/><text x="10.3" y="92.0" font-size="14" font-weight="normal" text-anchor="middle" fill="#2b2b2b" stroke="#fff" stroke-width="0.15">0</text><text x="43.39" y="106.1" font-size="14" font-weight="normal" text-anchor="middle" fill="#2b2b2b" stroke="#fff" stroke-width="0.15">3</text><text x="95.55" y="106.1" font-size="14" font-weight="normal" text-anchor="middle" fill="#2b2b2b" stroke="#fff" stroke-width="0.15">4</text><text x="147.73000000000002" y="106.1" font-size="14" font-weight="normal" text-anchor="middle" fill="#2b2b2b" stroke="#fff" stroke-width="0.15">5</text><text x="199.89000000000001" y="106.1" font-size="14" font-weight="normal" text-anchor="middle" fill="#2b2b2b" stroke="#fff" stroke-width="0.15">6</text><text x="252.07000000000002" y="106.1" font-size="14" font-weight="normal" text-anchor="middle" fill="#2b2b2b" stroke="#fff" stroke-width="0.15">7</text><text x="304.24" y="106.1" font-size="14" font-weight="normal" text-anchor="middle" fill="#2b2b2b" stroke="#fff" stroke-width="0.15">8</text><text x="356.41" y="106.1" font-size="14" font-weight="normal" text-anchor="middle" fill="#2b2b2b" stroke="#fff" stroke-width="0.15">9</text><text x="200.5" y="122.0" font-size="14" font-weight="bold" text-anchor="middle" fill="#231f20" stroke="#231f20" stroke-width="0.35" textLength="119" lengthAdjust="spacingAndGlyphs">Wavelength (μm)</text><text x="92" y="26" font-size="12.5" font-weight="normal" text-anchor="middle" fill="#333" stroke="#fff" stroke-width="0.15">3.96</text><text x="92" y="39.5" font-size="12.5" font-weight="normal" text-anchor="middle" fill="#333" stroke="#fff" stroke-width="0.15">μm</text><text x="119.9" y="26" font-size="12.5" font-weight="normal" text-anchor="middle" fill="#333" stroke="#fff" stroke-width="0.15">4.5</text><text x="119.9" y="39.5" font-size="12.5" font-weight="normal" text-anchor="middle" fill="#333" stroke="#fff" stroke-width="0.15">μm</text><text x="146" y="26" font-size="12.5" font-weight="normal" text-anchor="middle" fill="#333" stroke="#fff" stroke-width="0.15">4.9</text><text x="146" y="39.5" font-size="12.5" font-weight="normal" text-anchor="middle" fill="#333" stroke="#fff" stroke-width="0.15">μm</text><text x="177.8" y="26" font-size="12.5" font-weight="normal" text-anchor="middle" fill="#333" stroke="#fff" stroke-width="0.15">5.5</text><text x="177.8" y="39.5" font-size="12.5" font-weight="normal" text-anchor="middle" fill="#333" stroke="#fff" stroke-width="0.15">μm</text><text x="296" y="26" font-size="12.5" font-weight="normal" text-anchor="middle" fill="#333" stroke="#fff" stroke-width="0.15">7.95</text><text x="296" y="39.5" font-size="12.5" font-weight="normal" text-anchor="middle" fill="#333" stroke="#fff" stroke-width="0.15">μm</text><text x="0.6" y="154.6" font-size="13.5" font-weight="bold" text-anchor="start" fill="#231f20" stroke="#231f20" stroke-width="0.35" textLength="59.5" lengthAdjust="spacingAndGlyphs">Intensity</text><text x="0.6" y="168.9" font-size="13.5" font-weight="bold" text-anchor="start" fill="#231f20" stroke="#231f20" stroke-width="0.35" textLength="36.5" lengthAdjust="spacingAndGlyphs">(a.u.)</text><path d="M9.2,176.4 H15.0 L12.1,181 Z" fill="#231f20"/><path d="M10.6,285.7V277.0 L7.6,279.3" fill="none" stroke="#231f20" stroke-width="1.1" stroke-linejoin="round"/><text x="10" y="316.4" font-size="14" font-weight="normal" text-anchor="middle" fill="#2b2b2b" stroke="#fff" stroke-width="0.15">0</text><text x="10" y="251.5" font-size="14" font-weight="normal" text-anchor="middle" fill="#2b2b2b" stroke="#fff" stroke-width="0.15">2</text><text x="10" y="217.29999999999998" font-size="14" font-weight="normal" text-anchor="middle" fill="#2b2b2b" stroke="#fff" stroke-width="0.15">3</text><text x="17.799999999999997" y="330.3" font-size="14" font-weight="normal" text-anchor="middle" fill="#2b2b2b" stroke="#fff" stroke-width="0.15">-2</text><text x="78.3" y="330.3" font-size="14" font-weight="normal" text-anchor="middle" fill="#2b2b2b" stroke="#fff" stroke-width="0.15">0</text><text x="139.2" y="330.3" font-size="14" font-weight="normal" text-anchor="middle" fill="#2b2b2b" stroke="#fff" stroke-width="0.15">2</text><text x="200.1" y="330.3" font-size="14" font-weight="normal" text-anchor="middle" fill="#2b2b2b" stroke="#fff" stroke-width="0.15">4</text><text x="261.0" y="330.3" font-size="14" font-weight="normal" text-anchor="middle" fill="#2b2b2b" stroke="#fff" stroke-width="0.15">6</text><text x="321.9" y="330.3" font-size="14" font-weight="normal" text-anchor="middle" fill="#2b2b2b" stroke="#fff" stroke-width="0.15">8</text><text x="384.0" y="330.3" font-size="14" font-weight="normal" text-anchor="middle" fill="#2b2b2b" stroke="#fff" stroke-width="0.15">10</text><text x="200.8" y="346.0" font-size="14" font-weight="bold" text-anchor="middle" fill="#231f20" stroke="#231f20" stroke-width="0.35" textLength="158" lengthAdjust="spacingAndGlyphs">Pump-probe delay (ps)</text><path d="M149.4,242.6L155.2,248.2M149.4,248.2L155.2,242.6" stroke="#3a3a3a" stroke-width="0.95"/><text x="161.2" y="248.7" font-size="13" font-weight="normal" text-anchor="start" fill="#3a3a3a" stroke="#fff" stroke-width="0.15" textLength="109.3" lengthAdjust="spacingAndGlyphs">Bias @ 28V (0.8A)</text><text x="161.2" y="270.3" font-size="13" font-weight="normal" text-anchor="start" fill="#3a3a3a" stroke="#fff" stroke-width="0.15" textLength="57.8" lengthAdjust="spacingAndGlyphs">Fit @ 28V</text></svg></body></html>
